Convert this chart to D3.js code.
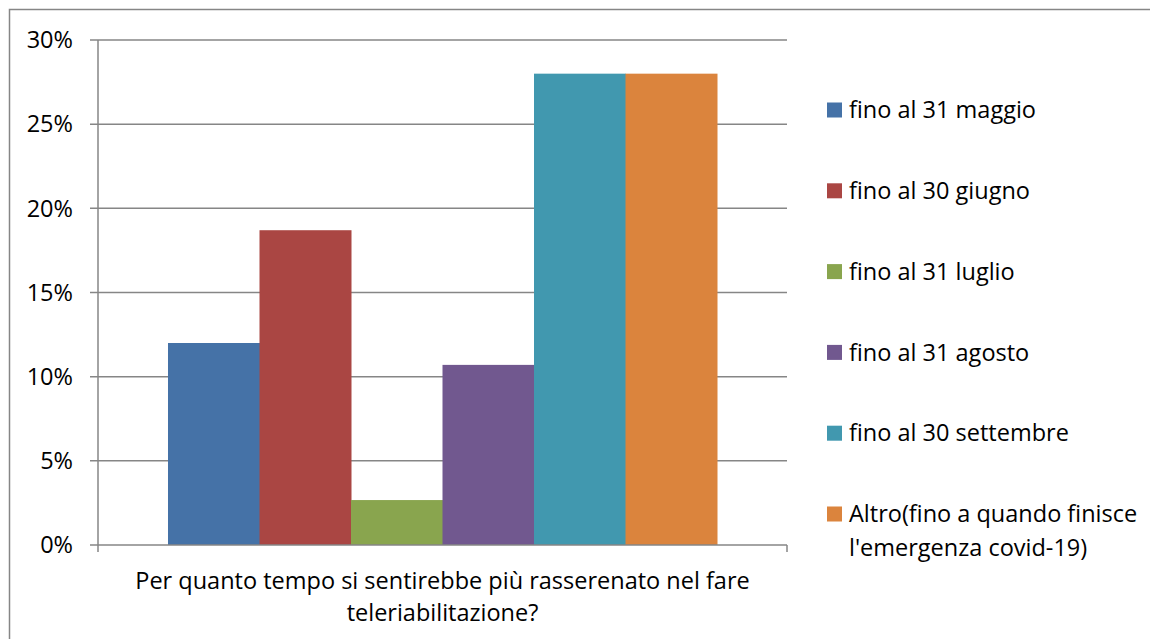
<!DOCTYPE html>
<html>
<head>
<meta charset="utf-8">
<script src="https://cdn.jsdelivr.net/npm/d3@7"></script>
<style>
  body { margin: 0; background: #fff; }
  svg { display: block; font-family: "Open Sans", sans-serif; }
</style>
</head>
<body>
<svg id="chart" width="1150" height="639"></svg>
<script>
// data
const seriesNames = ["fino al 31 maggio", "fino al 30 giugno", "fino al 31 luglio",
  "fino al 31 agosto", "fino al 30 settembre", "Altro(fino a quando finisce\nl'emergenza covid-19)"]
const seriesValues = [0.12, 0.187, 0.0267, 0.107, 0.28, 0.28]
const seriesColors = ["#4572A7", "#AA4643", "#89A54E", "#71588F", "#4198AF", "#DB843D"]
const yTicks = [0, 0.05, 0.10, 0.15, 0.20, 0.25, 0.30]
const categoryLabel = ["Per quanto tempo si sentirebbe più rasserenato nel fare", "teleriabilitazione?"]

const svg = d3.select("#chart")
const plotLeft = 98, plotRight = 787, plotTop = 40, plotBottom = 545
const fontSize = 23.5

// outer frame
svg.append("rect")
  .attr("x", 9.5).attr("y", 9.5)
  .attr("width", 1160).attr("height", 660)
  .attr("fill", "none").attr("stroke", "#868686").attr("stroke-width", 1.5)

let y = d3.scaleLinear().domain([0, 0.30]).range([plotBottom, plotTop])
let x = d3.scaleBand().domain(seriesNames).range([plotLeft, plotRight])
  .paddingInner(0).paddingOuter(0.765)

// gridlines + tick marks
svg.append("g").selectAll("line")
  .data(yTicks.filter(d => d > 0))
  .enter().append("line")
    .attr("x1", plotLeft - 8).attr("x2", plotRight)
    .attr("y1", d => y(d)).attr("y2", d => y(d))
    .attr("stroke", "#868686").attr("stroke-width", 1.5)

// bars
svg.append("g").selectAll("rect")
  .data(seriesValues)
  .enter().append("rect")
    .attr("x", (d, i) => x(seriesNames[i]))
    .attr("width", x.bandwidth() + 0.5)
    .attr("y", d => y(d))
    .attr("height", d => y(0) - y(d))
    .attr("fill", (d, i) => seriesColors[i])

// axes lines
svg.append("line")
  .attr("x1", plotLeft).attr("x2", plotLeft).attr("y1", plotTop).attr("y2", plotBottom + 7)
  .attr("stroke", "#868686").attr("stroke-width", 1.5)
svg.append("line")
  .attr("x1", plotLeft - 8).attr("x2", plotRight).attr("y1", plotBottom).attr("y2", plotBottom)
  .attr("stroke", "#868686").attr("stroke-width", 1.5)
svg.append("line")
  .attr("x1", plotRight).attr("x2", plotRight).attr("y1", plotBottom).attr("y2", plotBottom + 7)
  .attr("stroke", "#868686").attr("stroke-width", 1.5)

// y labels
svg.append("g").selectAll("text")
  .data(yTicks)
  .enter().append("text")
    .attr("x", 73).attr("y", d => y(d))
    .attr("dy", "0.35em")
    .attr("text-anchor", "end")
    .attr("font-size", fontSize)
    .attr("fill", "#000")
    .text(d3.format(".0%"))

// category label
svg.append("g").selectAll("text")
  .data(categoryLabel)
  .enter().append("text")
    .attr("x", (plotLeft + plotRight) / 2)
    .attr("y", (d, i) => 581 + i * 32)
    .attr("dy", "0.35em")
    .attr("text-anchor", "middle")
    .attr("font-size", fontSize)
    .text(d => d)

// legend
let legend = svg.append("g").selectAll("g")
  .data(seriesNames)
  .enter().append("g")
    .attr("transform", (d, i) => `translate(827,${110 + i * 80.8})`)

legend.append("rect")
  .attr("x", 0).attr("y", -7.5)
  .attr("width", 15).attr("height", 15)
  .attr("fill", (d, i) => seriesColors[i])

legend.append("text")
  .attr("font-size", fontSize)
  .selectAll("tspan")
  .data(d => d.split("\n"))
  .enter().append("tspan")
    .attr("x", 22)
    .attr("y", (d, i) => i * 34)
    .attr("dy", "0.35em")
    .text(d => d)
</script>
</body>
</html>
